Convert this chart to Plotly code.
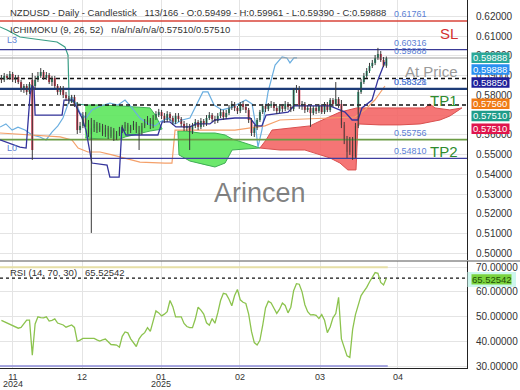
import plotly.graph_objects as go

# ---------------- data ----------------
bar_open = [
    0.5888, 0.5878, 0.5898, 0.5888, 0.5908, 0.5878, 0.5893, 0.5867, 0.5827, 0.5847,
    0.5817, 0.5878, 0.5847, 0.5878, 0.5898, 0.5918, 0.5888, 0.5903, 0.5867, 0.5888,
    0.5847, 0.5817, 0.5837, 0.5802, 0.5786, 0.5776, 0.5791, 0.5751, 0.5624, 0.5645,
    0.5695, 0.5655, 0.5604, 0.5634, 0.5655, 0.5624, 0.5645, 0.5604, 0.5634, 0.5594,
    0.5624, 0.5584, 0.5604, 0.5624, 0.5634, 0.5650, 0.5619, 0.5640, 0.5655, 0.5624,
    0.5614, 0.5645, 0.5665, 0.5675, 0.5645, 0.5685, 0.5705, 0.5715, 0.5695, 0.5675,
    0.5705, 0.5685, 0.5665, 0.5695, 0.5680, 0.5655, 0.5634, 0.5645, 0.5614, 0.5645,
    0.5665, 0.5640, 0.5670, 0.5655, 0.5685, 0.5700, 0.5680, 0.5670, 0.5695, 0.5715,
    0.5690, 0.5710, 0.5736, 0.5756, 0.5736, 0.5720, 0.5756, 0.5741, 0.5726, 0.5675,
    0.5609, 0.5634, 0.5675, 0.5715, 0.5746, 0.5731, 0.5746, 0.5756, 0.5736, 0.5720,
    0.5746, 0.5731, 0.5756, 0.5741, 0.5731, 0.5827, 0.5837, 0.5746, 0.5756, 0.5726,
    0.5736, 0.5710, 0.5736, 0.5720, 0.5746, 0.5715, 0.5756, 0.5726, 0.5776, 0.5756,
    0.5781, 0.5756, 0.5650, 0.5574, 0.5513, 0.5574, 0.5493, 0.5645, 0.5817, 0.5867,
    0.5898, 0.5923, 0.5948, 0.5964, 0.5989, 0.6009, 0.5979, 0.59499]
bar_high = [
    0.5903, 0.5913, 0.5908, 0.5923, 0.5918, 0.5903, 0.5903, 0.5878, 0.5857, 0.5857,
    0.5867, 0.5913, 0.5898, 0.5918, 0.5938, 0.5928, 0.5918, 0.5913, 0.5898, 0.5898,
    0.5857, 0.5847, 0.5847, 0.5817, 0.5797, 0.5802, 0.5802, 0.5766, 0.5665, 0.5715,
    0.5715, 0.5675, 0.5685, 0.5675, 0.5665, 0.5660, 0.5655, 0.5650, 0.5645, 0.5640,
    0.5634, 0.5619, 0.5640, 0.5650, 0.5665, 0.5660, 0.5650, 0.5670, 0.5665, 0.5645,
    0.5660, 0.5680, 0.5695, 0.5685, 0.5700, 0.5720, 0.5731, 0.5726, 0.5710, 0.5720,
    0.5715, 0.5695, 0.5710, 0.5710, 0.5690, 0.5670, 0.5660, 0.5655, 0.5660, 0.5680,
    0.5675, 0.5685, 0.5680, 0.5700, 0.5715, 0.5710, 0.5695, 0.5710, 0.5731, 0.5726,
    0.5726, 0.5751, 0.5771, 0.5766, 0.5746, 0.5766, 0.5771, 0.5751, 0.5736, 0.5685,
    0.5650, 0.5685, 0.5726, 0.5756, 0.5756, 0.5761, 0.5771, 0.5766, 0.5746, 0.5756,
    0.5756, 0.5771, 0.5766, 0.5751, 0.5837, 0.5852, 0.5847, 0.5771, 0.5766, 0.5751,
    0.5746, 0.5746, 0.5746, 0.5756, 0.5756, 0.5766, 0.5766, 0.5786, 0.5786, 0.5867,
    0.5791, 0.5776, 0.5665, 0.5594, 0.5589, 0.5589, 0.5660, 0.5827, 0.5883, 0.5913,
    0.5938, 0.5964, 0.5979, 0.6004, 0.6040, 0.6024, 0.5994, 0.59961]
bar_low = [
    0.5862, 0.5867, 0.5878, 0.5878, 0.5867, 0.5862, 0.5857, 0.5817, 0.5812, 0.5802,
    0.5807, 0.5473, 0.5827, 0.5867, 0.5888, 0.5878, 0.5878, 0.5857, 0.5847, 0.5837,
    0.5802, 0.5802, 0.5786, 0.5771, 0.5756, 0.5761, 0.5741, 0.5604, 0.5609, 0.5634,
    0.5640, 0.5589, 0.5103, 0.5614, 0.5609, 0.5614, 0.5594, 0.5589, 0.5579, 0.5584,
    0.5569, 0.5574, 0.5594, 0.5609, 0.5619, 0.5604, 0.5609, 0.5624, 0.5609, 0.5523,
    0.5599, 0.5634, 0.5650, 0.5629, 0.5634, 0.5675, 0.5690, 0.5680, 0.5660, 0.5665,
    0.5670, 0.5650, 0.5655, 0.5665, 0.5640, 0.5619, 0.5619, 0.5523, 0.5604, 0.5634,
    0.5624, 0.5629, 0.5640, 0.5645, 0.5675, 0.5665, 0.5655, 0.5660, 0.5685, 0.5675,
    0.5680, 0.5700, 0.5726, 0.5720, 0.5705, 0.5710, 0.5726, 0.5710, 0.5660, 0.5594,
    0.5589, 0.5624, 0.5665, 0.5705, 0.5715, 0.5720, 0.5736, 0.5720, 0.5705, 0.5710,
    0.5715, 0.5720, 0.5726, 0.5715, 0.5720, 0.5812, 0.5731, 0.5726, 0.5710, 0.5715,
    0.5640, 0.5700, 0.5705, 0.5710, 0.5705, 0.5705, 0.5715, 0.5715, 0.5741, 0.5746,
    0.5736, 0.5634, 0.5553, 0.5483, 0.5498, 0.5473, 0.5483, 0.5634, 0.5807, 0.5857,
    0.5888, 0.5913, 0.5938, 0.5953, 0.5979, 0.5969, 0.5943, 0.59390]
bar_close = [
    0.5878, 0.5898, 0.5888, 0.5908, 0.5878, 0.5893, 0.5867, 0.5827, 0.5847, 0.5817,
    0.5857, 0.5523, 0.5878, 0.5898, 0.5918, 0.5888, 0.5903, 0.5867, 0.5888, 0.5847,
    0.5817, 0.5837, 0.5802, 0.5786, 0.5776, 0.5791, 0.5756, 0.5624, 0.5645, 0.5695,
    0.5655, 0.5604, 0.5634, 0.5655, 0.5624, 0.5645, 0.5604, 0.5634, 0.5594, 0.5624,
    0.5584, 0.5604, 0.5624, 0.5634, 0.5650, 0.5619, 0.5640, 0.5655, 0.5624, 0.5614,
    0.5645, 0.5665, 0.5675, 0.5645, 0.5685, 0.5705, 0.5715, 0.5695, 0.5675, 0.5705,
    0.5685, 0.5665, 0.5695, 0.5680, 0.5655, 0.5634, 0.5645, 0.5614, 0.5645, 0.5665,
    0.5640, 0.5670, 0.5655, 0.5685, 0.5700, 0.5680, 0.5670, 0.5695, 0.5715, 0.5690,
    0.5710, 0.5736, 0.5756, 0.5736, 0.5720, 0.5756, 0.5741, 0.5726, 0.5675, 0.5609,
    0.5634, 0.5675, 0.5715, 0.5746, 0.5731, 0.5746, 0.5756, 0.5736, 0.5720, 0.5746,
    0.5731, 0.5756, 0.5741, 0.5731, 0.5827, 0.5837, 0.5746, 0.5756, 0.5726, 0.5736,
    0.5710, 0.5736, 0.5720, 0.5746, 0.5715, 0.5756, 0.5726, 0.5776, 0.5756, 0.5781,
    0.5756, 0.5650, 0.5574, 0.5513, 0.5574, 0.5493, 0.5645, 0.5817, 0.5867, 0.5898,
    0.5923, 0.5948, 0.5964, 0.5989, 0.6009, 0.5979, 0.59499, 0.59888]

rsi_values = [
    48.5, 48.0, 47.4, 46.8, 46.3, 45.8, 45.3, 45.6, 47.0, 48.6,
    48.6, 34.4, 47.0, 49.9, 49.6, 49.5, 49.9, 48.2, 48.5, 49.1,
    47.4, 47.0, 46.6, 45.7, 46.2, 46.6, 45.6, 40.0, 40.5, 41.2,
    41.2, 41.1, 41.3, 41.2, 40.6, 40.1, 40.6, 40.9, 39.8, 38.7,
    38.6, 38.5, 37.6, 42.0, 43.8, 43.4, 41.0, 39.5, 37.9, 41.0,
    42.6, 43.5, 45.5, 44.0, 48.0, 52.3, 51.5, 50.3, 51.0, 52.0,
    56.5, 54.0, 49.9, 49.9, 49.9, 47.2, 46.0, 45.5, 45.5, 49.0,
    53.8, 52.6, 51.0, 47.5, 46.5, 49.2, 47.3, 51.5, 56.5, 59.4,
    59.1, 57.0, 54.4, 58.5, 61.0, 56.8, 55.8, 55.3, 51.0, 44.0,
    39.5, 38.5, 40.4, 46.5, 53.5, 56.2, 55.5, 53.4, 51.3, 53.0,
    55.5, 54.5, 51.5, 53.8, 60.5, 63.3, 63.1, 60.0, 54.8, 52.0,
    50.7, 50.8, 50.5, 49.2, 50.8, 48.5, 43.5, 45.8, 49.5, 51.2,
    57.8, 41.0, 37.0, 34.1, 33.5, 44.8, 50.8, 55.0, 58.5, 60.2,
    61.8, 64.0, 66.2, 67.8, 67.5, 63.8, 62.8, 65.52542]

month_labels = ["11", "12", "01", "02", "03", "04"]
month_bar = [4.1, 28.7, 56.8, 84.9, 113.4, 141.1]
year_labels = ["2024", "2025"]
year_bar = [4.1, 56.8]

# Ichimoku lines (bar index, price)
tenkan_x = [-0.5, 6.6, 8.8, 10.2, 10.9, 11.6, 12.0, 21.6, 22.3, 25.5, 26.5, 28.7, 30.1, 31.5,
            32.2, 37.6, 38.6, 41.9, 42.9, 44.3, 55.7, 57.2, 60.0, 62.1, 67.1, 69.3, 74.2, 76.0,
            83.1, 88.5, 90.6, 92.7, 94.2, 102.0, 104.1, 116.9, 118.7, 122.3, 124.8, 126.9,
            128.3, 131.9, 134.0, 136.5]
tenkan_y = [0.5574, 0.5538, 0.5533, 0.5802, 0.5852, 0.5837, 0.5700, 0.5700, 0.5776, 0.5776,
            0.5746, 0.5685, 0.5624, 0.5523, 0.5457, 0.5447, 0.5386, 0.5386, 0.5640, 0.5599,
            0.5599, 0.5665, 0.5665, 0.5640, 0.5640, 0.5655, 0.5655, 0.5675, 0.5685, 0.5685,
            0.5645, 0.5645, 0.5700, 0.5715, 0.5746, 0.5746, 0.5736, 0.5715, 0.5675, 0.5675,
            0.5736, 0.5776, 0.5878, 0.5969]
kijun_x = [-0.5, 10.2, 20.9, 25.1, 27.3, 30.8, 35.1, 39.4, 44.0, 49.3, 58.2, 60.7, 61.8, 83.1,
           93.8, 99.1, 116.9, 125.8, 129.4, 132.9, 136.5]
kijun_y = [0.5609, 0.5599, 0.5589, 0.5574, 0.5533, 0.5513, 0.5513, 0.5498, 0.5483, 0.5462,
           0.5457, 0.5457, 0.5624, 0.5624, 0.5645, 0.5675, 0.5685, 0.5690, 0.5726, 0.5776,
           0.5847]
chikou_x = [-0.5, 1.6, 3.8, 5.9, 8.4, 10.9, 13.7, 15.9, 18.0, 20.1, 21.9, 23.7, 25.1, 26.5,
            28.0, 30.1, 32.2, 34.4, 36.5, 38.6, 41.5, 44.0, 46.5, 49.3, 52.2, 54.7, 56.4, 59.3,
            61.8, 64.3, 67.1, 69.6, 71.7, 73.5, 75.7, 78.5, 81.4, 84.2, 87.0, 89.2, 90.2, 91.3,
            92.7, 94.9, 97.4, 99.9, 101.6, 102.7, 104.1, 105.2]
chikou_y = [0.5639, 0.5655, 0.5624, 0.5639, 0.5624, 0.5599, 0.5589, 0.5574, 0.5614, 0.5645,
            0.5685, 0.5756, 0.5791, 0.5761, 0.5710, 0.5685, 0.5726, 0.5741, 0.5751, 0.5761,
            0.5751, 0.5776, 0.5736, 0.5685, 0.5655, 0.5645, 0.5665, 0.5685, 0.5655, 0.5675,
            0.5685, 0.5756, 0.5817, 0.5817, 0.5751, 0.5726, 0.5736, 0.5756, 0.5776, 0.5756,
            0.5675, 0.5538, 0.5624, 0.5817, 0.5953, 0.5994, 0.5989, 0.5964, 0.5989, 0.5989]
spanb_lead_x = [-0.5, 2.0, 6.6, 13.7, 19.8, 22.6, 23.7, 24.1, 27.3, 29.8]
spanb_lead_y = [0.6146, 0.6131, 0.6095, 0.6080, 0.6070, 0.6045, 0.6004, 0.5776, 0.5756, 0.5751]

# cloud segments: upper / lower edges
cloud1_up_x = [29.8, 35.1, 42.2, 49.3, 52.9, 55.0, 57.2]
cloud1_up_y = [0.5751, 0.5751, 0.5746, 0.5741, 0.5736, 0.5695, 0.5629]
cloud1_lo_x = [29.8, 35.1, 41.5, 44.0, 49.3, 52.9, 57.2]
cloud1_lo_y = [0.5584, 0.5579, 0.5574, 0.5589, 0.5609, 0.5619, 0.5629]
cloud2_up_x = [62.8, 65.3, 70.7, 76.0, 79.6, 82.1, 86.7, 92.0]
cloud2_up_y = [0.5619, 0.5619, 0.5609, 0.5609, 0.5599, 0.5579, 0.5558, 0.5533]
cloud2_lo_x = [62.8, 63.2, 67.1, 72.5, 76.0, 79.6, 82.1, 86.7, 92.0]
cloud2_lo_y = [0.5619, 0.5498, 0.5467, 0.5447, 0.5437, 0.5457, 0.5523, 0.5528, 0.5533]
cloud3_up_x = [92.0, 94.2, 96.3, 102.7, 109.8, 112.7, 116.9, 120.5, 126.5, 141.8, 150.7,
               152.5, 154.3, 159.6, 163.9]
cloud3_up_y = [0.5533, 0.5574, 0.5624, 0.5634, 0.5645, 0.5665, 0.5690, 0.5715, 0.5736,
               0.5736, 0.5736, 0.5756, 0.5736, 0.5726, 0.5736]
cloud3_lo_x = [92.0, 99.1, 108.0, 111.6, 116.9, 120.5, 123.3, 126.2, 126.9, 134.7, 141.8,
               149.0, 156.1, 159.6, 163.9]
cloud3_lo_y = [0.5533, 0.5523, 0.5523, 0.5508, 0.5483, 0.5457, 0.5422, 0.5422, 0.5655,
               0.5650, 0.5650, 0.5655, 0.5675, 0.5695, 0.5736]

# horizontal levels
level_values = [0.61761, 0.60316, 0.59888, 0.58850, 0.58321, 0.57510, 0.55756, 0.54810]
rsi_params_text = "RSI (14, 70, 30)"
rsi_last = 65.52542
rsi_bands = [70, 30]

header_main = ("NZDUSD - Daily - Candlestick\u00a0\u00a0\u00a0113/166 - O:0.59499 - H:0.59961"
               " - L:0.59390 - C:0.59888")
header_ichi = "ICHIMOKU (9, 26, 52)\u00a0\u00a0\u00a0n/a/n/a/n/a/0.57510/0.57510"

# ---------------- styling / layout helpers ----------------
W, H = 520, 390
PLOT_W, PLOT_H = 467, 368
X_MIN, X_MAX = -0.5, 165.7
FONT = "Liberation Sans, Arial, sans-serif"


def px_x(px):
    return px / PLOT_W


def px_y(py):
    return (PLOT_H - py) / PLOT_H


fig = go.Figure()

# clouds
clouds = [
    (cloud1_up_x, cloud1_up_y, cloud1_lo_x, cloud1_lo_y, "rgba(92,230,92,0.9)", "#3fae55"),
    (cloud2_up_x, cloud2_up_y, cloud2_lo_x, cloud2_lo_y, "rgba(92,230,92,0.9)", "#3fae55"),
    (cloud3_up_x, cloud3_up_y, cloud3_lo_x, cloud3_lo_y, "rgba(244,98,98,0.88)", "#d9504f"),
]
for ux, uy, lx, ly, fillc, edgec in clouds:
    fig.add_trace(go.Scatter(x=ux + lx[::-1], y=uy + ly[::-1], fill="toself", fillcolor=fillc,
                             mode="lines", line=dict(width=0), hoverinfo="skip"))
    fig.add_trace(go.Scatter(x=ux, y=uy, mode="lines", line=dict(color=edgec, width=1)))
    fig.add_trace(go.Scatter(x=lx, y=ly, mode="lines", line=dict(color=edgec, width=1)))

# ichimoku lines
fig.add_trace(go.Scatter(x=spanb_lead_x, y=spanb_lead_y, mode="lines",
                         line=dict(color="#3a9e86", width=1.2)))
fig.add_trace(go.Scatter(x=chikou_x, y=chikou_y, mode="lines",
                         line=dict(color="#6aaee0", width=1.2)))
fig.add_trace(go.Scatter(x=kijun_x, y=kijun_y, mode="lines",
                         line=dict(color="#f4a06a", width=1.2)))

# level lines
level_styles = [
    ("#d9453a", 1.3, "solid"), ("#3a3a96", 1.3, "solid"), ("#9a9a9a", 1.2, "solid"),
    ("#111111", 1.6, "4px,3px"), ("#1d3c78", 2.2, "solid"), ("#111111", 1.6, "4px,3px"),
    ("#6b9b45", 1.6, "solid"), ("#3f3f9f", 1.3, "solid"),
]
for val, (col, wd, dsh) in zip(level_values, level_styles):
    fig.add_trace(go.Scatter(x=[X_MIN, X_MAX], y=[val, val], mode="lines",
                             line=dict(color=col, width=wd, dash=dsh)))

fig.add_trace(go.Scatter(x=tenkan_x, y=tenkan_y, mode="lines",
                         line=dict(color="#34349c", width=1.3)))

# candles: wicks + bodies
idx = list(range(len(bar_close)))
wx, wy = [], []
for i, hi, lo in zip(idx, bar_high, bar_low):
    wx += [i, i, None]
    wy += [lo, hi, None]
fig.add_trace(go.Scatter(x=wx, y=wy, mode="lines", line=dict(color="#3a3a3a", width=1)))
body_base = [min(o, c) for o, c in zip(bar_open, bar_close)]
body_len = [max(abs(c - o), 0.00025) for o, c in zip(bar_open, bar_close)]
body_col = ["#2aa57c" if c >= o else "#e3324c" for o, c in zip(bar_open, bar_close)]
fig.add_trace(go.Bar(x=idx, y=body_len, base=body_base, marker=dict(color=body_col, line=dict(width=0)),
                     width=0.72))

# RSI panel
fig.add_trace(go.Scatter(x=[X_MIN, len(idx) - 0.5], y=[rsi_bands[0]] * 2, mode="lines",
                         line=dict(color="#e6dfa6", width=2), yaxis="y2"))
fig.add_trace(go.Scatter(x=[X_MIN, len(idx) - 0.5], y=[rsi_bands[1]] * 2, mode="lines",
                         line=dict(color="#8a8ad6", width=1.5), yaxis="y2"))
fig.add_trace(go.Scatter(x=[X_MIN, X_MAX], y=[rsi_last] * 2, mode="lines",
                         line=dict(color="#111111", width=1.2, dash="3px,3px"), yaxis="y2"))
fig.add_trace(go.Scatter(x=idx, y=rsi_values, mode="lines",
                         line=dict(color="#8cc34e", width=1.3), yaxis="y2"))

axis_font = dict(family=FONT, size=10, color="#333333")
fig.update_layout(
    width=W, height=H, margin=dict(l=0, r=W - PLOT_W, t=0, b=H - PLOT_H, autoexpand=False),
    paper_bgcolor="white", plot_bgcolor="white", showlegend=False, barmode="overlay",
    font=dict(family=FONT),
    xaxis=dict(domain=[0, 1], anchor="y2", range=[X_MIN, X_MAX], tickmode="array",
               tickvals=month_bar, ticktext=month_labels, showgrid=True, gridcolor="#e4e4e4",
               zeroline=False, showline=True, linecolor="#222222", linewidth=1, ticks="",
               tickfont=dict(family=FONT, size=9, color="#333333"), ticklabelstandoff=0,
               automargin=False),
    yaxis=dict(domain=[0.2935, 1], range=[0.49661, 0.62825], side="right", tick0=0.5, dtick=0.01,
               tickformat=".5f", showgrid=True, gridcolor="#e4e4e4", zeroline=False,
               showline=True, linecolor="#222222", linewidth=1, ticks="", tickfont=axis_font,
               ticklabelstandoff=6, automargin=False),
    yaxis2=dict(domain=[0, 0.2915], range=[29.2, 72.6], side="right", tickvals=[30, 40, 50, 60, 70],
                tickformat=".5f", showgrid=True, gridcolor="#e4e4e4", zeroline=False,
                showline=True, linecolor="#222222", linewidth=1, ticks="", tickfont=axis_font,
                ticklabelstandoff=6, automargin=False),
)

shapes = [dict(type="line", xref="paper", yref="paper", x0=0, x1=W / PLOT_W,
               y0=px_y(261), y1=px_y(261), line=dict(color="#555555", width=1))]

# price tag boxes on the right axis: (text, colour, centre px y)
tags = [("0.59888", "#2aa897", 57.7), ("0.59888", "#2a8ff0", 69.5), ("0.58850", "#1f1f9a", 82.5),
        ("0.57560", "#f07a14", 103.7), ("0.57510", "#1f9c8a", 116.0), ("0.57510", "#e0154c", 128.8)]
annotations = []
for txt, col, cy in tags:
    shapes.append(dict(type="rect", xref="paper", yref="paper", x0=px_x(471.5), x1=px_x(509.5),
                       y0=px_y(cy + 5.3), y1=px_y(cy - 5.3), fillcolor=col, line=dict(width=0),
                       layer="above"))
    annotations.append(dict(xref="paper", yref="paper", x=px_x(490.5), y=px_y(cy), text=txt,
                            showarrow=False, font=dict(family=FONT, size=9.5, color="white"),
                            xanchor="center", yanchor="middle"))
# RSI value tag
shapes.append(dict(type="rect", xref="paper", yref="paper", x0=px_x(467.5), x1=px_x(516),
                   y0=px_y(287), y1=px_y(272), fillcolor="#cdf6ee", line=dict(width=0), layer="above"))
shapes.append(dict(type="rect", xref="paper", yref="paper", x0=px_x(471.5), x1=px_x(511.5),
                   y0=px_y(284.5), y1=px_y(274.3), fillcolor="#7ad33e", line=dict(width=0), layer="above"))
annotations.append(dict(xref="paper", yref="paper", x=px_x(491.5), y=px_y(279.4),
                        text=f"{rsi_last:.5f}", showarrow=False,
                        font=dict(family=FONT, size=9.5, color="#1d4f05"),
                        xanchor="center", yanchor="middle"))
# partially visible top tick label (beyond the axis range, as in the reference)
annotations.append(dict(xref="paper", yref="paper", x=px_x(473.5), y=px_y(-3.5), text="0.63000",
                        showarrow=False, font=axis_font, xanchor="left", yanchor="middle"))

# value labels on the lines
blue_lab = dict(family=FONT, size=9, color="#5b7fd4")
value_labels = [("0.61761", 0.61761), ("0.60316", 0.60316), ("0.59888", 0.59888),
                ("0.58328", 0.58321), ("0.58321", 0.58321), ("0.55756", 0.55756), ("0.54810", 0.54810)]
for txt, v in value_labels:
    annotations.append(dict(xref="paper", yref="y", x=px_x(391.5), y=v, text=txt, showarrow=False,
                            font=blue_lab, xanchor="left", yanchor="bottom", yshift=0))
big = [("SL", 0.61761, "#d32f2f", "top", -2), ("At Price", 0.59888, "#9a9a9a", "top", -3),
       ("TP1", 0.57510, "#2e8b2e", "middle", 4), ("TP2", 0.54810, "#2e8b2e", "middle", 7)]
for txt, v, col, ya, ys in big:
    annotations.append(dict(xref="paper", yref="y", x=px_x(460), y=v, text=txt, showarrow=False,
                            font=dict(family=FONT, size=15, color=col), xanchor="right",
                            yanchor=ya, yshift=ys))
hdr_font = dict(family=FONT, size=9.5, color="#333333")
annotations += [
    dict(xref="paper", yref="paper", x=px_x(5), y=px_y(40.5), text="L3", showarrow=False,
         font=blue_lab, xanchor="left", yanchor="middle"),
    dict(xref="paper", yref="paper", x=px_x(5), y=px_y(148), text="L0", showarrow=False,
         font=blue_lab, xanchor="left", yanchor="middle"),
    dict(xref="paper", yref="paper", x=px_x(8), y=px_y(12), text=header_main, showarrow=False,
         font=hdr_font, xanchor="left", yanchor="middle"),
    dict(xref="paper", yref="paper", x=px_x(8), y=px_y(29.5), text=header_ichi, showarrow=False,
         font=hdr_font, xanchor="left", yanchor="middle"),
    dict(xref="paper", yref="paper", x=px_x(8), y=px_y(272.5),
         text=f"{rsi_params_text}\u00a0\u00a0\u00a0{rsi_last:.5f}", showarrow=False,
         font=hdr_font, xanchor="left", yanchor="middle"),
    dict(xref="paper", yref="paper", x=px_x(259.5), y=px_y(193), text="Arincen", showarrow=False,
         font=dict(family=FONT, size=27, color="rgba(95,95,95,0.8)"), xanchor="center",
         yanchor="middle"),
]
for txt, xb in zip(year_labels, year_bar):
    annotations.append(dict(xref="x", yref="paper", x=xb, y=px_y(383.5), text=txt, showarrow=False,
                            font=dict(family=FONT, size=9, color="#333333"), xanchor="center",
                            yanchor="middle"))

fig.update_layout(shapes=shapes, annotations=annotations)
fig.write_html("out.html", config={"displayModeBar": False},
               post_script="document.body.style.margin='0px';document.body.style.padding='0px';")
